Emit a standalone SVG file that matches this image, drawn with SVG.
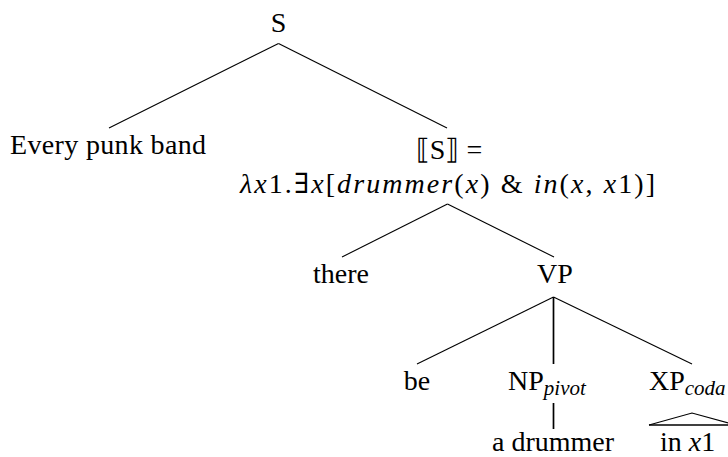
<svg xmlns="http://www.w3.org/2000/svg" width="728" height="457" viewBox="0 0 728 457">
<style>
  text { font-family: "Liberation Serif", "DejaVu Serif", serif; font-size: 28px; fill: #000; }
  .m { text-anchor: middle; }
  .it { font-style: italic; }
  .sub { font-size: 21px; font-style: italic; }
  .edge { stroke: #000; stroke-width: 1.1; fill: none; }
  .bold { stroke: #000; stroke-width: 1.7; fill: none; }
</style>
<rect width="728" height="457" fill="#fff"/>
<g id="connectors">
  <line class="edge" x1="278.5" y1="43.5" x2="109" y2="128"/>
  <line class="edge" x1="278.5" y1="43.5" x2="447" y2="128"/>
  <line class="edge" x1="447.5" y1="204" x2="342" y2="257"/>
  <line class="edge" x1="447.5" y1="204" x2="554" y2="257"/>
  <line class="edge" x1="553.5" y1="297" x2="417" y2="364"/>
  <line class="bold" x1="553.5" y1="297" x2="553.5" y2="364"/>
  <line class="edge" x1="553.5" y1="297" x2="692" y2="364"/>
  <line class="bold" x1="553.5" y1="403" x2="553.5" y2="429"/>
  <polyline class="edge" points="649,425 692,413 736,425"/>
  <line class="bold" x1="649" y1="425" x2="736" y2="425"/>
</g>
<g id="n-S"><text class="m" x="278.5" y="32">S</text></g>
<g id="n-every"><text class="m" x="108" y="154" textLength="196" lengthAdjust="spacing">Every punk band</text></g>
<g id="n-sem">
  <text class="m" x="449" y="159">⟦S⟧ =</text>
  <text class="m" x="447.5" y="193" textLength="415" lengthAdjust="spacing"><tspan class="it">λx</tspan>1.∃<tspan class="it">x</tspan>[<tspan class="it">drummer</tspan>(<tspan class="it">x</tspan>) &amp; <tspan class="it">in</tspan>(<tspan class="it">x</tspan>, <tspan class="it">x</tspan>1)]</text>
</g>
<g id="n-there"><text class="m" x="341" y="283">there</text></g>
<g id="n-VP"><text class="m" x="555" y="283">VP</text></g>
<g id="n-be"><text class="m" x="417" y="390">be</text></g>
<g id="n-NP"><text x="508" y="390">NP<tspan class="sub" dy="5">pivot</tspan></text></g>
<g id="n-XP"><text x="649" y="390">XP<tspan class="sub" dy="5">coda</tspan></text></g>
<g id="n-drummer"><text class="m" x="553" y="451">a drummer</text></g>
<g id="n-inx1"><text x="660" y="451">in <tspan class="it">x</tspan>1</text></g>
</svg>
